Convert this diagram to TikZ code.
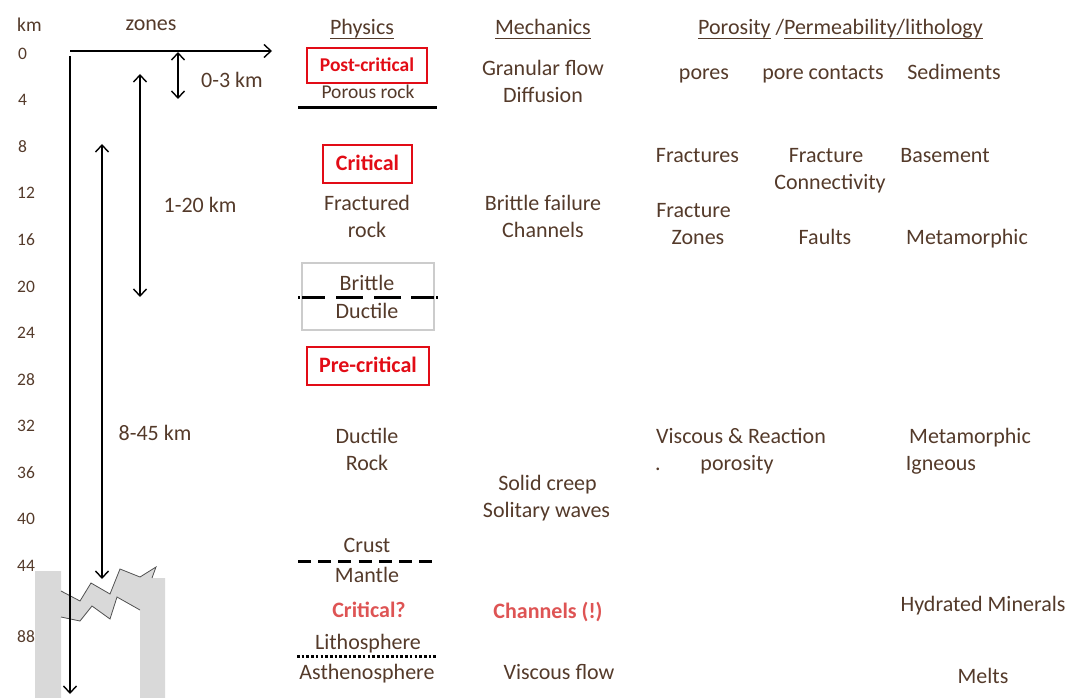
\documentclass[tikz,border=0pt]{standalone}
\usepackage{fontspec}
\setmainfont{Carlito}
\usetikzlibrary{arrows.meta}
\definecolor{inkbrown}{RGB}{84,58,42}
\definecolor{alertred}{RGB}{226,12,22}
\definecolor{softred}{RGB}{222,84,84}
\definecolor{breakfill}{RGB}{217,217,217}
\definecolor{breakedge}{RGB}{80,80,80}
\definecolor{panelgray}{RGB}{204,204,204}
% underline that sits at the descender line
\newcommand\ulword[1]{\setbox0=\hbox{#1}\rlap{\rule[-5pt]{\wd0}{1.3pt}}\box0}
\begin{document}
\begin{tikzpicture}[x=1pt,y=-1pt,
  txt/.style={text=inkbrown, font=\fontsize{22}{26}\selectfont, inner sep=0pt, text height=15pt, text depth=0pt},
  small/.style={txt, font=\fontsize{19.5}{23}\selectfont, text height=13.5pt},
  depth/.style={text=inkbrown, font=\fontsize{17.5}{21}\selectfont, inner sep=0pt, anchor=west, text height=11.5pt, text depth=0pt},
  zonebox/.style={draw=alertred, line width=1.6pt, text=alertred, font=\fontsize{22}{26}\selectfont\bfseries, inner sep=0pt, text height=13pt, text depth=0pt},
  alert/.style={txt, text=softred, font=\fontsize{22}{26}\selectfont\bfseries},
  dim/.style={line width=1.4pt, -{Straight Barb[length=7pt,width=13pt]}},
  dimboth/.style={line width=1.4pt, {Straight Barb[length=7pt,width=13pt]}-{Straight Barb[length=7pt,width=13pt]}},
  layerrule/.style={draw=black, line width=3pt}
]
\useasboundingbox (0,0) rectangle (1069,698);

% ---- depth scale ----
\node[depth, font=\fontsize{19.5}{23}\selectfont, text height=13pt] (kmlab) at (17,25) {km};
\node[depth] (d0)  at (18,54) {0};
\node[depth] (d4)  at (18,100) {4};
\node[depth] (d8)  at (18,147) {8};
\node[depth] (d12) at (17,193) {12};
\node[depth] (d16) at (17,240) {16};
\node[depth] (d20) at (17,287) {20};
\node[depth] (d24) at (17,333) {24};
\node[depth] (d28) at (17,380) {28};
\node[depth] (d32) at (17,426) {32};
\node[depth] (d36) at (17,473) {36};
\node[depth] (d40) at (17,519) {40};
\node[depth] (d44) at (17,566) {44};
\node[depth] (d88) at (17,637) {88};

% ---- axis break ----
\fill[breakfill] (35,698) -- (35,571) -- (61,571) -- (61,591) -- (80,601) -- (91,583)
  -- (110,594) -- (120,569) -- (140,577) -- (156,567) -- (152,578) -- (165,578)
  -- (165,698) -- (140,698) -- (140,610) -- (117,597) -- (110,619) -- (92,606)
  -- (80,621) -- (61,617) -- (61,698) -- cycle;
\draw[breakedge, line width=0.8pt, line join=miter] (61,591) -- (80,601) -- (91,583) -- (110,594)
  -- (120,569) -- (140,577) -- (156,567) -- (152,578);
\draw[breakedge, line width=0.8pt] (140,610) -- (117,597) -- (110,619) -- (92,606)
  -- (80,621) -- (61,617);

% ---- zone axes ----
\node[txt] (zones) at (151,23) {zones};
\coordinate (hstart) at (70,51);
\coordinate (hend) at (272,51);
\coordinate (vstart) at (70,56);
\coordinate (vend) at (70,694);
\draw[dim] (hstart) -- (hend);
\draw[dim] (vstart) -- (vend);

\coordinate (za) at (178,52);
\coordinate (zb) at (178,99);
\draw[dimboth] (za) -- (zb);
\node[txt] (z03) at (232,80) {0-3 km};

\coordinate (zc) at (140,74);
\coordinate (zd) at (140,297);
\draw[dimboth] (zc) -- (zd);
\node[txt] (z120) at (200,205) {1-20 km};

\coordinate (ze) at (102,144);
\coordinate (zf) at (102,579);
\draw[dimboth] (ze) -- (zf);
\node[txt] (z845) at (155,433) {8-45 km};

% ---- headers ----
\node[txt] (hphys) at (362,27) {\ulword{Physics}};
\node[txt] (hmech) at (543,27) {\ulword{Mechanics}};
\node[txt, anchor=west] (hpor) at (698,27) {\ulword{Porosity}\ /\ulword{Permeability/lithology}};

% ---- physics column ----
\node[zonebox, font=\fontsize{19.5}{23}\selectfont\bfseries, text height=11.5pt, minimum width=120pt, minimum height=35pt] (postcrit) at (367,65.5) {Post-critical};
\node[small] (porous) at (368,92) {Porous rock};
\coordinate (b1l) at (298,108);
\coordinate (b1r) at (437,108);
\draw[layerrule] (b1l) -- (b1r);

\node[zonebox, minimum width=89pt, minimum height=38pt] (crit) at (367.5,164) {Critical};
\node[txt] (fract) at (367,203) {Fractured};
\node[txt] (frock) at (367,230) {rock};

\node[draw=panelgray, line width=1.5pt, minimum width=132pt, minimum height=67pt, inner sep=0pt] (bdpanel) at (368,296.5) {};
\node[txt] (brittle) at (367,283) {Brittle};
\node[txt] (ductile) at (367,311) {Ductile};
\coordinate (b2l) at (298,297);
\coordinate (b2r) at (438,297);
\draw[layerrule, dash pattern=on 2pt off 2pt on 23pt off 11pt on 27pt off 11pt on 27pt off 10pt on 23pt off 2pt on 2pt off 2pt] (b2l) -- (b2r);

\node[zonebox, minimum width=122pt, minimum height=38pt] (precrit) at (368,366) {Pre-critical};
\node[txt] (ductrock) at (367,436) {Ductile};
\node[txt] (rockb) at (367,463) {Rock};

\node[txt] (crust) at (367,545) {Crust};
\coordinate (b3l) at (298,561);
\coordinate (b3r) at (432,561);
\draw[layerrule, dash pattern=on 13pt off 7.2pt] (b3l) -- (b3r);
\node[txt] (mantle) at (367,575) {Mantle};
\node[alert] (critq) at (369,610) {Critical?};
\node[txt] (litho) at (368,642) {Lithosphere};
\coordinate (b4l) at (297,656);
\coordinate (b4r) at (437,656);
\draw[layerrule, dash pattern=on 2.6pt off 2.1pt] (b4l) -- (b4r);
\node[txt] (astheno) at (367,672) {Asthenosphere};

% ---- mechanics column ----
\node[txt] (granular) at (543,68) {Granular flow};
\node[txt] (diffusion) at (543,95) {Diffusion};
\node[txt] (bfail) at (543,203) {Brittle failure};
\node[txt] (channels) at (543,230) {Channels};
\node[txt] (creep) at (547.5,483) {Solid creep};
\node[txt] (solitary) at (546.5,510) {Solitary waves};
\node[alert] (chanalert) at (548,611) {Channels (!)};
\node[txt] (viscflow) at (559,672) {Viscous flow};

% ---- porosity / permeability / lithology column ----
\node[txt] (pores) at (704,72) {pores};
\node[txt] (contacts) at (823,72) {pore contacts};
\node[txt] (sediments) at (954,72) {Sediments};
\node[txt] (fractures) at (697.5,155) {Fractures};
\node[txt] (fracconn) at (826,155) {Fracture};
\node[txt] (connect) at (830,182) {Connectivity};
\node[txt] (basement) at (945,155) {Basement};
\node[txt] (fraczone) at (693.5,210) {Fracture};
\node[txt] (zonesb) at (698,237) {Zones};
\node[txt] (faults) at (825,237) {Faults};
\node[txt] (metamA) at (967,237) {Metamorphic};
\node[txt] (viscreact) at (741,436) {Viscous \& Reaction};
\node[txt] (dotmark) at (658,463) {.};
\node[txt] (porosity) at (737,463) {porosity};
\node[txt] (metamB) at (970,436) {Metamorphic};
\node[txt] (igneous) at (941,463) {Igneous};
\node[txt] (hydrated) at (983,604) {Hydrated Minerals};
\node[txt] (melts) at (983,676) {Melts};
\end{tikzpicture}
\end{document}
